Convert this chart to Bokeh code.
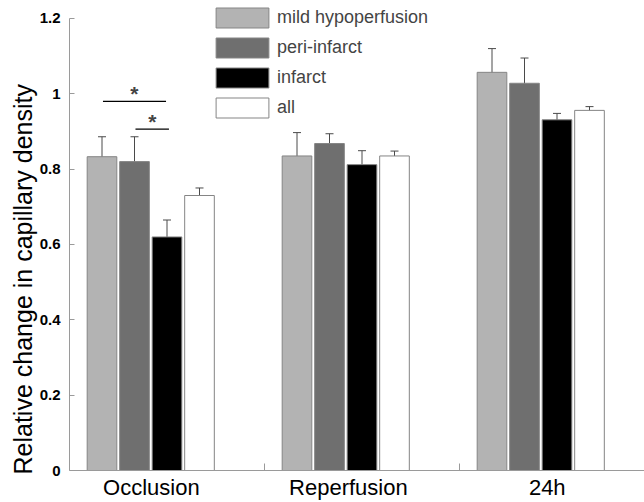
import numpy as np
from bokeh.plotting import figure
from bokeh.models import (Range1d, FixedTicker, NumeralTickFormatter, Legend, LegendItem,
                          Whisker, TeeHead, ColumnDataSource, Label, Title)
from bokeh.embed import file_html
from bokeh.resources import INLINE

groups = ["Occlusion", "Reperfusion", "24h"]
series = ["mild hypoperfusion", "peri-infarct", "infarct", "all"]
colors = ["#b3b3b3", "#6f6f6f", "#000000", "#ffffff"]

mild = [0.833, 0.835, 1.057]
mild_err = [0.053, 0.062, 0.063]
peri = [0.820, 0.868, 1.028]
peri_err = [0.066, 0.026, 0.067]
infarct = [0.620, 0.812, 0.931]
infarct_err = [0.045, 0.037, 0.017]
allreg = [0.730, 0.835, 0.956]
allreg_err = [0.020, 0.013, 0.010]

values = [mild, peri, infarct, allreg]
errors = [mild_err, peri_err, infarct_err, allreg_err]

FONT = "Liberation Sans"
PX_PER_UNIT = 377.5

p = figure(width=644, height=502, output_backend="svg", toolbar_location=None,
           x_range=Range1d(0, 575 / 195), y_range=Range1d(0, 1.2 + 14 / PX_PER_UNIT),
           min_border_left=69, min_border_right=0, min_border_top=4, min_border_bottom=31)
p.outline_line_color = None
p.xgrid.visible = False
p.ygrid.visible = False
p.background_fill_color = "white"
p.border_fill_color = "white"

items = []
for k, (name, col, vals, errs) in enumerate(zip(series, colors, values, errors)):
    xs = [i + (k + 1) / 6 for i in range(len(groups))]
    src = ColumnDataSource(dict(x=xs, top=vals,
                                upper=[v + e for v, e in zip(vals, errs)],
                                lower=[v - e for v, e in zip(vals, errs)]))
    r = p.vbar(x="x", top="top", bottom=0, width=0.152, source=src,
               fill_color=col, line_color="#858585", line_width=1)
    items.append(LegendItem(label=name, renderers=[r]))
    w = Whisker(base="x", upper="upper", lower="lower", source=src,
                line_color="#4a4a4a", line_width=1,
                upper_head=TeeHead(size=8, line_color="#4a4a4a", line_width=1),
                lower_head=TeeHead(size=8, line_color="#4a4a4a", line_width=1))
    p.add_layout(w)

# significance markers
p.segment(x0=[1 / 6 + 0.005, 2 / 6 + 0.005], y0=[0.980, 0.906],
          x1=[0.5 - 0.005, 0.5 + 0.01], y1=[0.980, 0.906],
          line_color="black", line_width=1.3)
for sx, sy in [(0.333, 0.980), (0.425, 0.906)]:
    p.add_layout(Label(x=sx, y=sy, text="*", text_font=FONT, text_font_size="21px",
                       text_font_style="bold", text_align="center",
                       text_baseline="alphabetic", y_offset=8))

legend = Legend(items=items, location=(140, 350), orientation="vertical",
                glyph_width=66, glyph_height=25, label_height=25, spacing=5,
                padding=0, margin=0, label_standoff=2,
                label_text_font=FONT, label_text_font_size="18px",
                border_line_color=None, background_fill_alpha=0)
p.add_layout(legend, "center")

# y axis
p.yaxis.bounds = (0, 1.2)
p.yaxis.ticker = FixedTicker(ticks=[0, 0.2, 0.4, 0.6, 0.8, 1.0, 1.2])
p.yaxis.formatter = NumeralTickFormatter(format="0.[0]")
p.yaxis.major_tick_in = 5
p.yaxis.major_tick_out = 0
p.yaxis.minor_tick_in = 0
p.yaxis.minor_tick_out = 0
p.yaxis.axis_line_color = "#9a9a9a"
p.yaxis.major_tick_line_color = "#9a9a9a"
p.yaxis.major_label_text_font = FONT
p.yaxis.major_label_text_font_style = "bold"
p.yaxis.major_label_text_font_size = "15px"
p.yaxis.major_label_text_color = "black"
p.yaxis.major_label_standoff = 9

ytitle = Title(text="Relative change in capillary density", align="left", offset=-4,
               standoff=0, text_font=FONT, text_font_size="25px",
               text_font_style="normal", text_color="black")
p.add_layout(ytitle, "left")

# x axis
p.xaxis.ticker = FixedTicker(ticks=[0.42, 1.43, 2.45], minor_ticks=[1, 2])
p.xaxis.major_label_overrides = {0.42: groups[0], 1.43: groups[1], 2.45: groups[2]}
p.xaxis.major_tick_in = 0
p.xaxis.major_tick_out = 0
p.xaxis.minor_tick_in = 7
p.xaxis.minor_tick_out = 0
p.xaxis.minor_tick_line_color = "#9a9a9a"
p.xaxis.axis_line_color = "#9a9a9a"
p.xaxis.major_label_text_font = FONT
p.xaxis.major_label_text_font_size = "22px"
p.xaxis.major_label_text_color = "black"
p.xaxis.major_label_standoff = 4

open("out.html", "w").write(file_html(p, INLINE))
